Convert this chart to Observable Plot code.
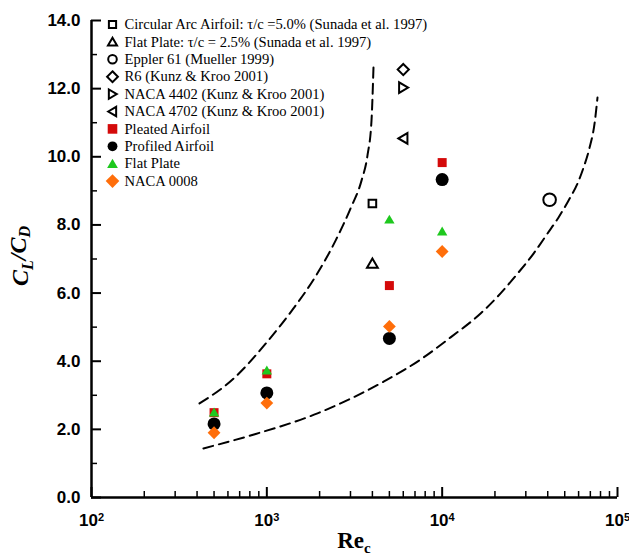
<!DOCTYPE html>
<html>
<head>
<meta charset="utf-8">
<script src="https://cdn.jsdelivr.net/npm/d3@7"></script>
<script src="https://cdn.jsdelivr.net/npm/@observablehq/plot@0.6"></script>
<style>
  html, body { margin: 0; padding: 0; background: white; }
</style>
</head>
<body>
<div id="chart"></div>
<script>
// ---- data ----
const reNum = [500, 1000, 5000, 10000];
const pleated = [2.49, 3.63, 6.22, 9.83];
const profiled = [2.16, 3.07, 4.67, 9.33];
const flatPlate = [2.50, 3.73, 8.16, 7.81];
const naca0008 = [1.90, 2.77, 5.02, 7.22];

const litNames = [
  "Circular Arc Airfoil: \u03c4/c =5.0% (Sunada et al. 1997)",
  "Flat Plate: \u03c4/c = 2.5% (Sunada et al. 1997)",
  "Eppler 61 (Mueller 1999)",
  "R6 (Kunz & Kroo 2001)",
  "NACA 4402 (Kunz & Kroo 2001)",
  "NACA 4702 (Kunz & Kroo 2001)"
];
const litRe = [4000, 4000, 41000, 6000, 6000, 6000];
const litVal = [8.63, 6.87, 8.74, 12.56, 12.03, 10.54];

const ownNames = ["Pleated Airfoil", "Profiled Airfoil", "Flat Plate", "NACA 0008"];

const upperRe = [413, 646, 1009, 1419, 1897, 2466, 3000, 3467, 3750, 3954, 4061];
const upperVal = [2.76, 3.49, 4.58, 5.55, 6.49, 7.54, 8.48, 9.30, 10.04, 11.07, 12.68];
const lowerRe = [435, 807, 1945, 4634, 7530, 11170, 16560, 21530, 26900, 33200, 39900, 46100, 52600, 59200, 64100, 69300, 74000, 76900];
const lowerVal = [1.44, 1.82, 2.47, 3.40, 4.05, 4.70, 5.40, 5.99, 6.57, 7.16, 7.75, 8.22, 8.72, 9.22, 9.69, 10.27, 10.98, 11.74];

const xMajor = [100, 1000, 10000, 100000];
const xMinor = [];
for (const dec of [100, 1000, 10000]) for (let k = 2; k <= 9; k++) xMinor.push(dec * k);
const yMajor = [0, 2, 4, 6, 8, 10, 12, 14];
const yMinor = [1, 3, 5, 7, 9, 11, 13];

// ---- custom symbols (half-size = r) ----
const hOf = s => Math.sqrt(s / Math.PI);
const sym = {
  square: {draw(c, s) { const h = hOf(s); c.moveTo(-h, -h); c.lineTo(h, -h); c.lineTo(h, h); c.lineTo(-h, h); c.closePath(); }},
  circle: {draw(c, s) { const h = hOf(s); c.moveTo(h, 0); c.arc(0, 0, h, 0, 2 * Math.PI); }},
  triUp: {draw(c, s) { const h = hOf(s); c.moveTo(0, -h); c.lineTo(h * 1.08, h * 0.85); c.lineTo(-h * 1.08, h * 0.85); c.closePath(); }},
  triRight: {draw(c, s) { const h = hOf(s); c.moveTo(h, 0); c.lineTo(-h * 0.85, -h * 1.08); c.lineTo(-h * 0.85, h * 1.08); c.closePath(); }},
  triLeft: {draw(c, s) { const h = hOf(s); c.moveTo(-h, 0); c.lineTo(h * 0.85, -h * 1.08); c.lineTo(h * 0.85, h * 1.08); c.closePath(); }},
  diamond: {draw(c, s) { const h = hOf(s); c.moveTo(0, -h); c.lineTo(h, 0); c.lineTo(0, h); c.lineTo(-h, 0); c.closePath(); }}
};

const red = "#d40a0a", green = "#1ec81e", orange = "#ff6e0a";

// styles per series (not data)
const litStyle = [
  {symbol: sym.square, r: 3.8, lr: 3.6},
  {symbol: sym.triUp, r: 5, lr: 4.2},
  {symbol: sym.circle, r: 6.3, lr: 4.3},
  {symbol: sym.diamond, r: 5.6, lr: 5.4},
  {symbol: sym.triRight, r: 4.9, lr: 4.3},
  {symbol: sym.triLeft, r: 4.9, lr: 4.3}
];
const ownStyle = [
  {symbol: sym.square, r: 4.5, lr: 4.8, fill: red},
  {symbol: sym.circle, r: 6.5, lr: 4.9, fill: "black"},
  {symbol: sym.triUp, r: 4.8, lr: 5.0, fill: green},
  {symbol: sym.diamond, r: 6.4, lr: 6.8, fill: orange}
];
const ownSeries = [pleated, profiled, flatPlate, naca0008];

const width = 629, height = 559;
const mL = 91, mR = 12, mT = 20, mB = 62;
const W = width - mL - mR, H = height - mT - mB;

const marks = [];

// dashed envelope curves
marks.push(Plot.line(upperRe.map((r, i) => ({re: r, v: upperVal[i]})), {x: "re", y: "v", curve: "monotone-x", stroke: "black", strokeWidth: 2, strokeDasharray: "10,6"}));
marks.push(Plot.line(lowerRe.map((r, i) => ({re: r, v: lowerVal[i]})), {x: "re", y: "v", curve: "monotone-x", stroke: "black", strokeWidth: 2, strokeDasharray: "10,6"}));

// literature points (open)
litNames.forEach((name, i) => {
  marks.push(Plot.dot([{re: litRe[i], v: litVal[i]}], {x: "re", y: "v", symbol: litStyle[i].symbol, r: litStyle[i].r, fill: "white", stroke: "black", strokeWidth: 2}));
});
// present data (filled)
ownNames.forEach((name, i) => {
  marks.push(Plot.dot(reNum.map((r, j) => ({re: r, v: ownSeries[i][j]})), {x: "re", y: "v", symbol: ownStyle[i].symbol, r: ownStyle[i].r, fill: ownStyle[i].fill, stroke: "none"}));
});

// legend
const legY0 = 4, legStep = 17.4;
litNames.forEach((name, i) => {
  marks.push(Plot.dot([0], {frameAnchor: "top-left", dx: 21, dy: legY0 + i * legStep, symbol: litStyle[i].symbol, r: litStyle[i].lr, fill: "white", stroke: "black", strokeWidth: 2}));
  marks.push(Plot.text([name], {text: d => d, frameAnchor: "top-left", dx: 33, dy: legY0 + i * legStep, textAnchor: "start", lineAnchor: "middle", fontFamily: "Liberation Serif", fontSize: 14.6, fontWeight: "normal", fill: "black"}));
});
ownNames.forEach((name, k) => {
  const i = k + litNames.length;
  marks.push(Plot.dot([0], {frameAnchor: "top-left", dx: 21, dy: legY0 + i * legStep, symbol: ownStyle[k].symbol, r: ownStyle[k].lr, fill: ownStyle[k].fill, stroke: "none"}));
  marks.push(Plot.text([name], {text: d => d, frameAnchor: "top-left", dx: 33, dy: legY0 + i * legStep, textAnchor: "start", lineAnchor: "middle", fontFamily: "Liberation Serif", fontSize: 14.6, fontWeight: "normal", fill: "black"}));
});

// inward ticks
marks.push(Plot.tickX(xMajor, {x: d => d, insetTop: H - 10, stroke: "black", strokeWidth: 2}));
marks.push(Plot.tickX(xMinor, {x: d => d, insetTop: H - 6, stroke: "black", strokeWidth: 1.5}));
marks.push(Plot.tickY(yMajor, {y: d => d, insetRight: W - 10, stroke: "black", strokeWidth: 2}));
marks.push(Plot.tickY(yMinor, {y: d => d, insetRight: W - 6, stroke: "black", strokeWidth: 1.5}));

// tick labels
marks.push(Plot.axisX(xMajor, {tickSize: 0, tickPadding: 16, tickFormat: d => "10^" + Math.round(Math.log10(d)), label: null, fontSize: 17, fontWeight: "bold"}));
marks.push(Plot.axisY(yMajor, {tickSize: 0, tickPadding: 11, tickFormat: d => d.toFixed(1), label: null, fontSize: 17, fontWeight: "bold"}));

// axis lines
marks.push(Plot.ruleX([100], {stroke: "black", strokeWidth: 2.5}));
marks.push(Plot.ruleY([0], {stroke: "black", strokeWidth: 2.5}));

const chart = Plot.plot({
  width, height,
  marginLeft: mL, marginRight: mR, marginTop: mT, marginBottom: mB,
  x: {type: "log", domain: [100, 100000]},
  y: {domain: [0, 14]},
  style: {fontFamily: "Liberation Sans", fontSize: "17px", background: "white", color: "black", overflow: "visible"},
  marks
});

document.getElementById("chart").appendChild(chart);

const svg = d3.select(chart);
// superscripts on x tick labels
svg.selectAll("text").each(function() {
  const m = /^10\^(\d)$/.exec(this.textContent);
  if (m) {
    const t = d3.select(this);
    t.text(null);
    t.append("tspan").text("10");
    t.append("tspan").attr("dy", "-0.45em").attr("font-size", "11px").text(m[1]);
  }
});

// axis titles
const yl = svg.append("text")
  .attr("transform", "translate(28,256) rotate(-90)")
  .attr("text-anchor", "middle")
  .attr("font-family", "Liberation Serif")
  .attr("font-style", "italic")
  .attr("font-weight", "bold")
  .attr("font-size", 24)
  .attr("fill", "black");
yl.append("tspan").text("C");
yl.append("tspan").attr("dy", "0.3em").attr("font-size", 16).text("L");
yl.append("tspan").attr("dy", "-0.3em").text("/C");
yl.append("tspan").attr("dy", "0.3em").attr("font-size", 16).text("D");

const xl = svg.append("text")
  .attr("x", mL + W / 2)
  .attr("y", 548)
  .attr("text-anchor", "middle")
  .attr("font-family", "Liberation Serif")
  .attr("font-weight", "bold")
  .attr("font-size", 23)
  .attr("fill", "black");
xl.append("tspan").text("Re");
xl.append("tspan").attr("dy", "0.3em").attr("font-size", 15).text("c");
</script>
</body>
</html>
